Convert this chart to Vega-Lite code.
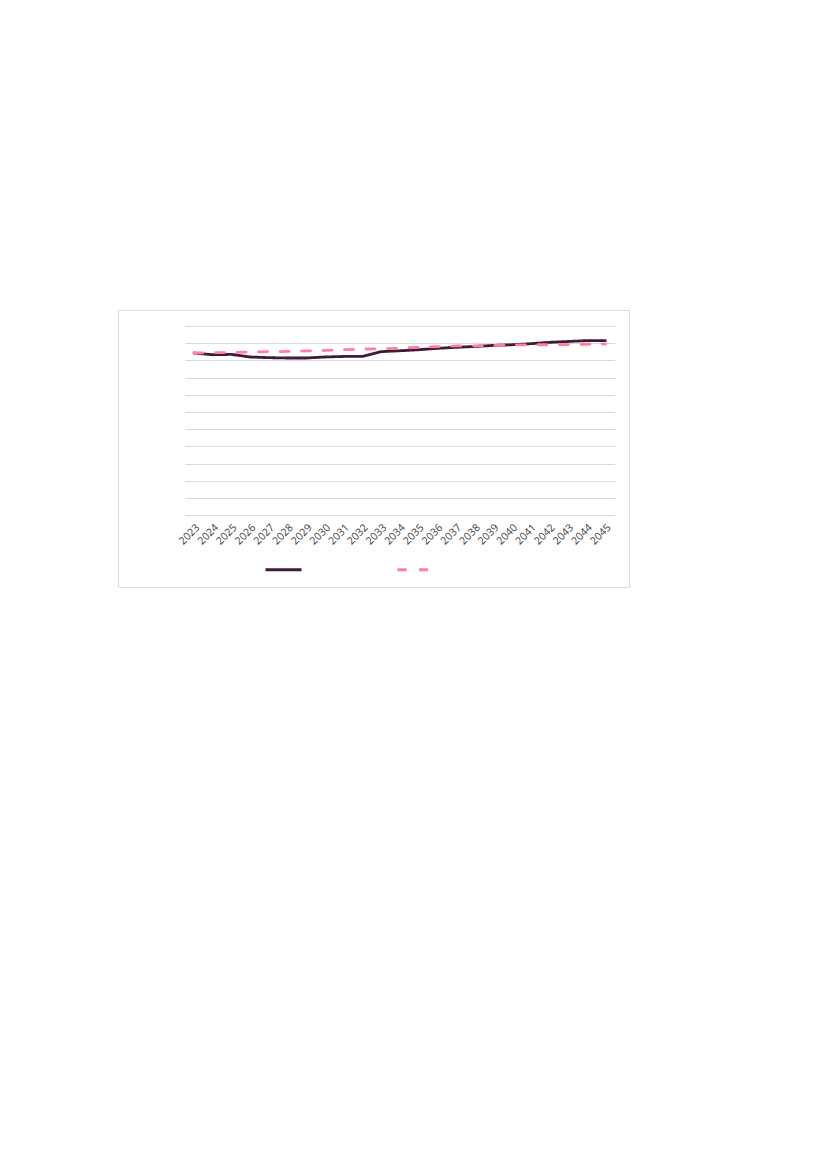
{
  "$schema": "https://vega.github.io/schema/vega-lite/v6.json",
  "width": 511,
  "height": 277,
  "autosize": {"type": "none"},
  "padding": {"left": 118, "top": 310, "right": 198, "bottom": 582},
  "background": "white",
  "data": {
    "values": [
      {"year": "2023", "series": "Series 1", "value": 94.3},
      {"year": "2024", "series": "Series 1", "value": 93.3},
      {"year": "2025", "series": "Series 1", "value": 93.5},
      {"year": "2026", "series": "Series 1", "value": 92.0},
      {"year": "2027", "series": "Series 1", "value": 91.6},
      {"year": "2028", "series": "Series 1", "value": 91.4},
      {"year": "2029", "series": "Series 1", "value": 91.4},
      {"year": "2030", "series": "Series 1", "value": 92.0},
      {"year": "2031", "series": "Series 1", "value": 92.3},
      {"year": "2032", "series": "Series 1", "value": 92.3},
      {"year": "2033", "series": "Series 1", "value": 95.1},
      {"year": "2034", "series": "Series 1", "value": 95.6},
      {"year": "2035", "series": "Series 1", "value": 96.2},
      {"year": "2036", "series": "Series 1", "value": 97.0},
      {"year": "2037", "series": "Series 1", "value": 97.6},
      {"year": "2038", "series": "Series 1", "value": 98.1},
      {"year": "2039", "series": "Series 1", "value": 98.7},
      {"year": "2040", "series": "Series 1", "value": 99.1},
      {"year": "2041", "series": "Series 1", "value": 99.7},
      {"year": "2042", "series": "Series 1", "value": 100.5},
      {"year": "2043", "series": "Series 1", "value": 101.0},
      {"year": "2044", "series": "Series 1", "value": 101.5},
      {"year": "2045", "series": "Series 1", "value": 101.5},
      {"year": "2023", "series": "Series 2", "value": 94.3},
      {"year": "2024", "series": "Series 2", "value": 94.5},
      {"year": "2025", "series": "Series 2", "value": 94.6},
      {"year": "2026", "series": "Series 2", "value": 94.9},
      {"year": "2027", "series": "Series 2", "value": 95.1},
      {"year": "2028", "series": "Series 2", "value": 95.2},
      {"year": "2029", "series": "Series 2", "value": 95.5},
      {"year": "2030", "series": "Series 2", "value": 95.8},
      {"year": "2031", "series": "Series 2", "value": 96.2},
      {"year": "2032", "series": "Series 2", "value": 96.6},
      {"year": "2033", "series": "Series 2", "value": 96.8},
      {"year": "2034", "series": "Series 2", "value": 97.1},
      {"year": "2035", "series": "Series 2", "value": 97.6},
      {"year": "2036", "series": "Series 2", "value": 98.0},
      {"year": "2037", "series": "Series 2", "value": 98.4},
      {"year": "2038", "series": "Series 2", "value": 98.5},
      {"year": "2039", "series": "Series 2", "value": 98.7},
      {"year": "2040", "series": "Series 2", "value": 99.0},
      {"year": "2041", "series": "Series 2", "value": 99.1},
      {"year": "2042", "series": "Series 2", "value": 99.1},
      {"year": "2043", "series": "Series 2", "value": 99.2},
      {"year": "2044", "series": "Series 2", "value": 99.4},
      {"year": "2045", "series": "Series 2", "value": 99.5}
    ]
  },
  "mark": {"type": "line", "strokeWidth": 2.8, "strokeCap": "round", "strokeJoin": "round"},
  "encoding": {
    "x": {
      "field": "year", "type": "ordinal",
      "scale": {"type": "point", "range": [66.7, 496.7], "padding": 0.5},
      "axis": {
        "title": null, "offset": -72, "domain": false, "ticks": false,
        "labelAngle": -45, "labelFont": "Open Sans", "labelFontSize": 10.5,
        "labelColor": "#404040", "labelPadding": 7
      }
    },
    "y": {
      "field": "value", "type": "quantitative",
      "scale": {"domain": [0, 110], "range": [205.3, 16], "nice": false},
      "axis": {
        "title": null, "labels": false, "ticks": false, "domain": false,
        "values": [0, 10, 20, 30, 40, 50, 60, 70, 80, 90, 100, 110],
        "gridColor": "#d9d9d9", "gridWidth": 1
      }
    },
    "color": {
      "field": "series", "type": "nominal",
      "scale": {"domain": ["Series 1", "Series 2"], "range": ["#3e1a3b", "#ff7f9c"]},
      "legend": {
        "title": null, "orient": "none", "legendX": 146, "legendY": 240,
        "direction": "horizontal", "labelExpr": "''", "labelOffset": 0,
        "columnPadding": 83, "symbolSize": 1296, "symbolStrokeWidth": 3,
        "symbolType": "stroke", "padding": 0
      }
    },
    "strokeDash": {
      "field": "series", "type": "nominal",
      "scale": {"domain": ["Series 1", "Series 2"], "range": [[1, 0], [9, 12.5]]},
      "legend": {
        "title": null, "orient": "none", "legendX": 146, "legendY": 240,
        "direction": "horizontal", "labelExpr": "''", "labelOffset": 0,
        "columnPadding": 83, "symbolSize": 1296, "symbolStrokeWidth": 3,
        "symbolType": "stroke", "padding": 0
      }
    }
  },
  "config": {
    "view": {"stroke": "#d9d9d9", "strokeWidth": 1}
  }
}
